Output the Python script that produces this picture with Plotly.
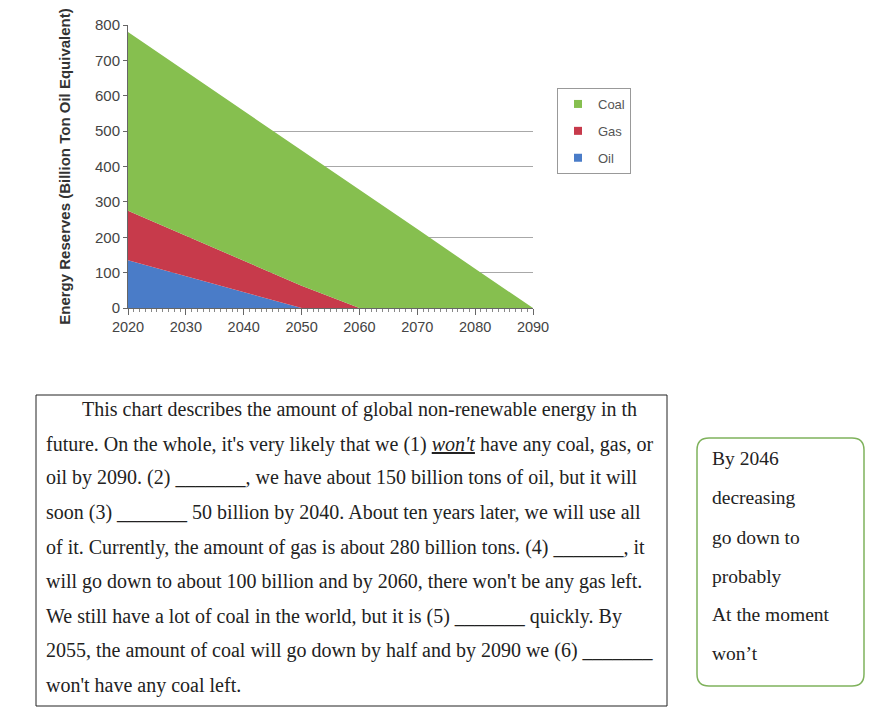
import plotly.graph_objects as go

# page has an 8px body margin, so the figure is shifted a bit
OFF = 8
W, H = 886 - 2 * OFF, 708 - OFF

# chart data (stacked, billion ton oil equivalent)
years = [2020, 2030, 2040, 2050, 2060, 2070, 2080, 2090]
oil = [135, 90, 45, 0, 0, 0, 0, 0]
gas = [140, 115, 89, 63, 0, 0, 0, 0]
coal = [505, 464, 423, 383, 334, 223, 111, 0]

series_names = ['Oil', 'Gas', 'Coal']
series_colors = {'Oil': '#4a7cc8', 'Gas': '#c73a4b', 'Coal': '#86bf4f'}
legend_order = ['Coal', 'Gas', 'Oil']

y_ticks = [0, 100, 200, 300, 400, 500, 600, 700, 800]
grid_ticks = [100, 200, 400, 500]

# exercise text
paragraph_lines = [
    "This chart describes the amount of global non-renewable energy in th",
    "future. On the whole, it's very likely that we (1) <i><u>won't</u></i> have any coal, gas, or",
    "oil by 2090. (2) _______, we have about 150 billion tons of oil, but it will",
    "soon (3) _______ 50 billion by 2040. About ten years later, we will use all",
    "of it. Currently, the amount of gas is about 280 billion tons. (4) _______, it",
    "will go down to about 100 billion and by 2060, there won't be any gas left.",
    "We still have a lot of coal in the world, but it is (5) _______ quickly. By",
    "2055, the amount of coal will go down by half and by 2090 we (6) _______",
    "won't have any coal left.",
]
word_bank = ["By 2046", "decreasing", "go down to", "probably", "At the moment", "won\u2019t"]


# page pixel -> paper coordinate
def px_x(x):
    return (x - OFF) / W


def px_y(y):
    return 1 - (y - OFF) / H


fig = go.Figure()

values = {'Oil': oil, 'Gas': gas, 'Coal': coal}
for name in series_names:
    fig.add_trace(go.Scatter(
        x=years, y=values[name], name=name, stackgroup='one', mode='lines',
        line=dict(width=0, color=series_colors[name]), fillcolor=series_colors[name],
        showlegend=False, hoverinfo='skip'))

# square legend markers
for name in legend_order:
    fig.add_trace(go.Scatter(
        x=[None], y=[None], name=name, mode='markers', legendgroup=name,
        marker=dict(symbol='square', size=8, color=series_colors[name])))

# grid only at some levels, as in the picture
fig.add_trace(go.Scatter(x=[None], y=[None], yaxis='y2', showlegend=False))

fig.update_layout(
    width=W, height=H,
    margin=dict(l=0, r=0, t=0, b=0, autoexpand=False),
    paper_bgcolor='white', plot_bgcolor='white',
    font=dict(family='Liberation Sans, Arial, sans-serif', color='#444'),
    showlegend=True,
    legend=dict(x=px_x(557), y=px_y(88), xanchor='left', yanchor='top',
                bordercolor='#999', borderwidth=1, tracegroupgap=7,
                font=dict(size=13, color='#555'), itemwidth=30),
    xaxis=dict(domain=[px_x(128), px_x(533)], range=[2020, 2090], automargin=False,
               tickvals=years, ticks='outside', ticklen=6, tickcolor='#666',
               showline=True, linecolor='#666', showgrid=False, zeroline=False,
               tickfont=dict(size=14.5, color='#444'),
               minor=dict(dtick=1, ticks='outside', ticklen=3, tickcolor='#888')),
    yaxis=dict(domain=[px_y(308), px_y(25)], range=[0, 800], automargin=False,
               tickvals=y_ticks, ticks='outside', ticklen=4, tickcolor='#666',
               showline=True, linecolor='#666', showgrid=False, zeroline=False,
               tickfont=dict(size=15, color='#444'),
               title=dict(text='<b>Energy Reserves (Billion Ton Oil Equivalent)</b>',
                          font=dict(size=15, color='#333'), standoff=20)),
    yaxis2=dict(overlaying='y', range=[0, 800], tickvals=grid_ticks, automargin=False,
                showticklabels=False, showgrid=True, gridcolor='#a8a8a8', gridwidth=1,
                zeroline=False, showline=False, layer='below traces'),
)

# paragraph box
fig.add_shape(type='rect', xref='paper', yref='paper',
              x0=px_x(36), x1=px_x(667), y0=px_y(706), y1=px_y(395),
              line=dict(color='#222', width=1))

line_y = [409, 444, 478, 512, 547, 581, 616, 650, 685]
for i, (text, y) in enumerate(zip(paragraph_lines, line_y)):
    fig.add_annotation(xref='paper', yref='paper', x=px_x(80 if i == 0 else 44), y=px_y(y),
                       xanchor='left', yanchor='middle', showarrow=False, text=text,
                       font=dict(family='Liberation Serif, Times New Roman, serif', size=20, color='#222'))

# word bank box with rounded corners
x0, x1, y0, y1 = px_x(697), px_x(864), px_y(686), px_y(438)
rx, ry = 12 / W, 12 / H
path = (f'M {x0 + rx},{y1} L {x1 - rx},{y1} Q {x1},{y1} {x1},{y1 - ry} '
        f'L {x1},{y0 + ry} Q {x1},{y0} {x1 - rx},{y0} L {x0 + rx},{y0} '
        f'Q {x0},{y0} {x0},{y0 + ry} L {x0},{y1 - ry} Q {x0},{y1} {x0 + rx},{y1} Z')
fig.add_shape(type='path', xref='paper', yref='paper', path=path,
              line=dict(color='#7fb25c', width=1.5))

bank_y = [459, 498, 537, 576, 614, 653]
for word, y in zip(word_bank, bank_y):
    fig.add_annotation(xref='paper', yref='paper', x=px_x(710), y=px_y(y),
                       xanchor='left', yanchor='middle', showarrow=False, text=word,
                       font=dict(family='Liberation Serif, Times New Roman, serif', size=19.5, color='#222'))

fig.write_html("out.html")
